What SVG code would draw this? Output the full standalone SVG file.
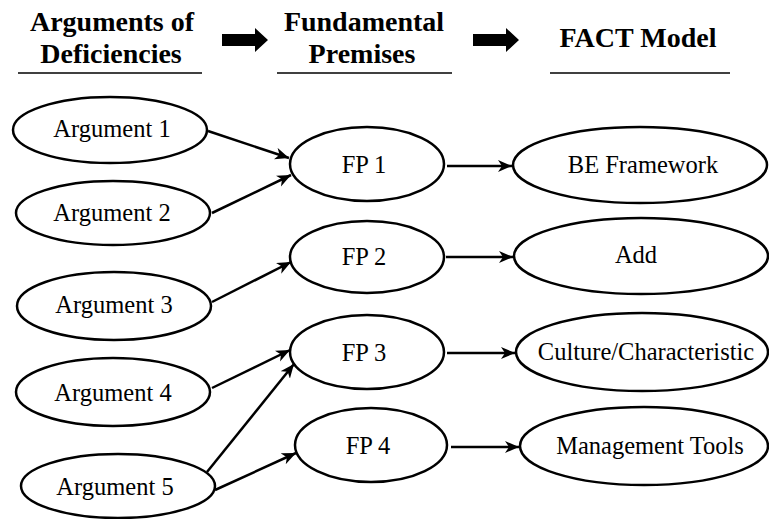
<svg xmlns="http://www.w3.org/2000/svg" width="769" height="519" viewBox="0 0 769 519">
<style>
.node ellipse{fill:#fff;stroke:#000;stroke-width:2.5}
.node text{font-size:24.5px;fill:#000;text-anchor:middle}
.hdr{font-size:28px;font-weight:bold;fill:#000;text-anchor:middle}
.rule{stroke:#000;stroke-width:1.5}
.conn line{stroke:#000;stroke-width:2.5;marker-end:url(#ah)}
</style>
<defs>
<marker id="ah" markerUnits="userSpaceOnUse" markerWidth="15" markerHeight="13" refX="14" refY="6" orient="auto">
<path d="M0,0 L14,6 L0,12 L4,6 z" fill="#000"/>
</marker>
</defs>
<rect width="769" height="519" fill="#fff"/>
<g id="header" font-family="Liberation Serif, Tinos, Times New Roman, serif">
<text class="hdr" x="112" y="31">Arguments of</text>
<text class="hdr" x="111" y="63">Deficiencies</text>
<line class="rule" x1="18" y1="73" x2="202" y2="73"/>
<polygon points="222,34 255,34 255,28 268,40 255,52 255,46 222,46" fill="#000"/>
<text class="hdr" x="364" y="31">Fundamental</text>
<text class="hdr" x="362" y="63">Premises</text>
<line class="rule" x1="277" y1="73" x2="452" y2="73"/>
<polygon points="473,34 506,34 506,28 519,40 506,52 506,46 473,46" fill="#000"/>
<text class="hdr" x="638" y="47">FACT Model</text>
<line class="rule" x1="550" y1="73" x2="730" y2="73"/>
</g>
<g id="connectors" class="conn">
<line x1="208" y1="131" x2="289" y2="158"/>
<line x1="212" y1="213" x2="291" y2="175"/>
<line x1="212" y1="302" x2="291" y2="262"/>
<line x1="212" y1="388" x2="290" y2="350"/>
<line x1="207" y1="472" x2="294" y2="364"/>
<line x1="215" y1="490" x2="296" y2="453"/>
<line x1="447" y1="166" x2="512" y2="166"/>
<line x1="446" y1="257" x2="513" y2="257"/>
<line x1="447" y1="353" x2="515" y2="353"/>
<line x1="451" y1="447" x2="519" y2="447"/>
</g>
<g id="nodes" font-family="Liberation Serif, Tinos, Times New Roman, serif">
<g id="arg1" class="node"><ellipse cx="110" cy="130" rx="97" ry="33"/><text x="112" y="137">Argument 1</text></g>
<g id="arg2" class="node"><ellipse cx="113" cy="213" rx="97" ry="32"/><text x="112" y="221">Argument 2</text></g>
<g id="arg3" class="node"><ellipse cx="114" cy="306" rx="97" ry="34"/><text x="114" y="313">Argument 3</text></g>
<g id="arg4" class="node"><ellipse cx="113" cy="392" rx="97" ry="34"/><text x="113" y="401">Argument 4</text></g>
<g id="arg5" class="node"><ellipse cx="118" cy="486" rx="97" ry="32"/><text x="115" y="495">Argument 5</text></g>
<g id="fp1" class="node"><ellipse cx="367" cy="164" rx="77" ry="37"/><text x="364" y="173">FP 1</text></g>
<g id="fp2" class="node"><ellipse cx="367" cy="257" rx="77" ry="36"/><text x="364" y="265">FP 2</text></g>
<g id="fp3" class="node"><ellipse cx="367" cy="352" rx="77" ry="37"/><text x="364" y="361">FP 3</text></g>
<g id="fp4" class="node"><ellipse cx="371" cy="445" rx="76" ry="37"/><text x="368" y="454">FP 4</text></g>
<g id="be" class="node"><ellipse cx="640" cy="165" rx="127" ry="38"/><text x="643" y="173">BE Framework</text></g>
<g id="add" class="node"><ellipse cx="641" cy="256" rx="127" ry="38"/><text x="636" y="263">Add</text></g>
<g id="culture" class="node"><ellipse cx="642" cy="352" rx="126" ry="39"/><text x="646" y="360">Culture/Characteristic</text></g>
<g id="mgmt" class="node"><ellipse cx="644" cy="446" rx="124" ry="39"/><text x="650" y="454">Management Tools</text></g>
</g>
</svg>
